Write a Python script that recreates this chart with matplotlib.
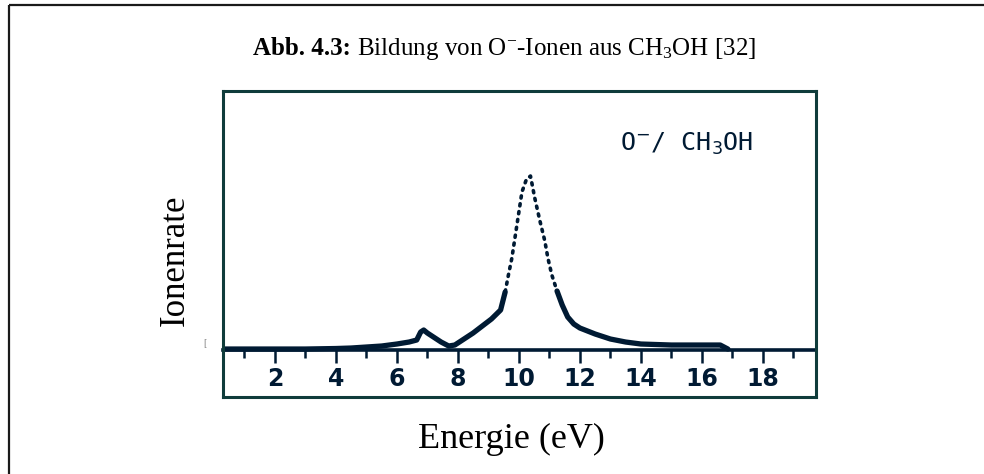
import numpy as np
import matplotlib
matplotlib.use('Agg')
import matplotlib.pyplot as plt
from matplotlib.lines import Line2D

energy = [0.3, 1.0, 2.0, 3.0, 4.0, 4.5, 5.0, 5.5, 6.0, 6.4,
          6.65, 6.78, 6.88, 7.0, 7.2, 7.45, 7.7, 7.9, 8.2, 8.5,
          8.8, 9.1, 9.4, 9.55, 9.65, 9.77, 9.87, 9.97, 10.1, 10.25,
          10.38, 10.52, 10.69, 10.85, 10.95, 11.08, 11.25, 11.42, 11.6, 11.8,
          12.0, 12.5, 13.0, 13.5, 14.0, 15.0, 16.0, 16.6, 16.85]
rate = [1, 1, 1, 1, 1.5, 2, 3, 4, 6, 8,
        10, 18, 20, 17, 13, 8, 4, 5, 11, 17,
        24, 31, 40, 58, 74, 92, 112, 132, 158, 171,
        174, 152, 129, 109, 92, 75, 59, 45, 33, 26,
        22, 16, 11, 8, 6, 5, 5, 5, 1]

major_ticks = [2, 4, 6, 8, 10, 12, 14, 16, 18]
tick_labels = ['2', '4', '6', '8', '10', '12', '14', '16', '18']
minor_ticks = [1, 3, 5, 7, 9, 11, 13, 15, 17, 19]

title_bold = 'Abb. 4.3:'
title_rest = r' Bildung von O$^{-}$-Ionen aus CH$_3$OH [32]'
inset_label = r'O$^{-}$/ CH$_3$OH'
xlabel = 'Energie (eV)'
ylabel = 'Ionenrate'

NAVY = '#001a33'
TEAL = '#0f3c3b'

plt.rcParams['font.family'] = 'Liberation Serif'
plt.rcParams['mathtext.fontset'] = 'custom'
plt.rcParams['mathtext.rm'] = 'Liberation Serif'
plt.rcParams['mathtext.bf'] = 'Liberation Serif:bold'
plt.rcParams['mathtext.it'] = 'Liberation Serif:italic'

fig = plt.figure(figsize=(9.84, 4.74), dpi=100)
ax = fig.add_axes([0.2266, 0.1624, 0.6027, 0.6456])

e = np.array(energy)
r = np.array(rate, dtype=float)

# Flanken als dickes Band, Maximum gepunktet wie im Original
wing = np.where((e <= 9.55) | (e >= 11.25), r, np.nan)
core = np.where((e >= 9.55) & (e <= 11.25), r, np.nan)
ax.plot(e, wing, color=NAVY, lw=3.8, solid_capstyle='round', solid_joinstyle='round')
ax.plot(e, core, color=NAVY, lw=2.6, ls=(0, (0.6, 1.6)), dash_capstyle='round')

ax.set_xlim(0.3, 19.74)
ax.set_ylim(-47, 259)
ax.set_xticks([])
ax.set_yticks([])
for sp in ax.spines.values():
    sp.set_color(TEAL)
    sp.set_linewidth(2.2)

# Energieachse innerhalb des Rahmens
ymin, ymax = ax.get_ylim()
sec = ax.secondary_xaxis((0 - ymin) / (ymax - ymin))
sec.spines['bottom'].set_color(NAVY)
sec.spines['bottom'].set_linewidth(2.6)
sec.set_xticks(major_ticks, tick_labels)
sec.set_xticks(minor_ticks, minor=True)
sec.tick_params(which='major', direction='out', length=9, width=1.8,
                color=NAVY, pad=3.5, labelsize=17, labelcolor=NAVY)
sec.tick_params(which='minor', direction='out', length=6, width=1.8, color=NAVY)
for lab in sec.get_xticklabels():
    lab.set_fontfamily('DejaVu Sans')
    lab.set_fontweight('bold')

fig.text(620 / 984, 1 - 151 / 474, inset_label, fontsize=18, color=NAVY,
         family='DejaVu Sans Mono', math_fontfamily='dejavusans',
         ha='left', va='baseline')

# Titel: fetter Teil, dahinter normaler Text
t_bold = fig.text(253 / 984, 1 - 55 / 474, title_bold, fontsize=18,
                  fontweight='bold', ha='left', va='baseline')
renderer = fig.canvas.get_renderer()
bb = t_bold.get_window_extent(renderer=renderer)
fig.text(bb.x1 / fig.bbox.width, 1 - 55 / 474, title_rest, fontsize=18,
         ha='left', va='baseline')

fig.text(511 / 984, 1 - 448 / 474, xlabel, fontsize=26, ha='center', va='baseline')
fig.text(175 / 984, 1 - 260 / 474, ylabel, fontsize=25, rotation=90,
         ha='center', va='center')
fig.text(205 / 984, 1 - 344 / 474, '[', fontsize=7, color='#777777',
         ha='center', va='center')

# Rahmen der Seite (oben und links)
fig.add_artist(Line2D([8.5 / 984, 1], [1 - 4.5 / 474, 1 - 4.5 / 474],
                      transform=fig.transFigure, color='#1a1a1a', lw=1.6,
                      solid_capstyle='butt'))
fig.add_artist(Line2D([8.5 / 984, 8.5 / 984], [0, 1 - 4.5 / 474],
                      transform=fig.transFigure, color='#1a1a1a', lw=1.6,
                      solid_capstyle='butt'))

fig.savefig('out.png', dpi=100)
